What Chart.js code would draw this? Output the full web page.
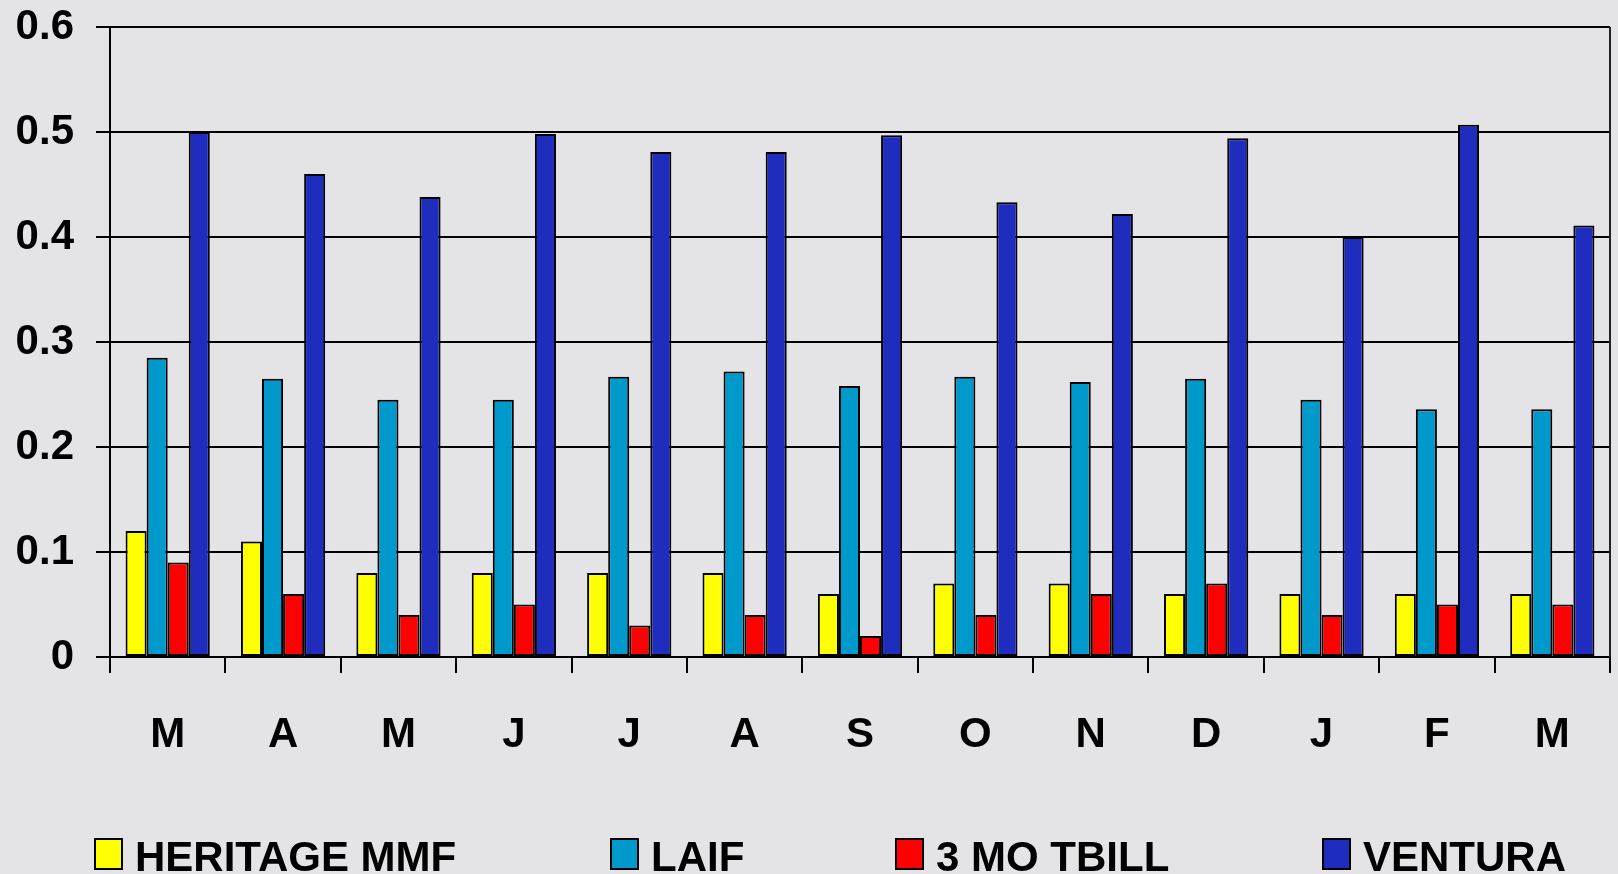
<!DOCTYPE html>
<html>
<head>
<meta charset="utf-8">
<script src="https://cdn.jsdelivr.net/npm/chart.js@4/dist/chart.umd.min.js"></script>
<style>
  html, body { margin: 0; padding: 0; overflow: hidden; }
  body { width: 1618px; height: 874px; background: #e4e4e6; }
  #wrap { position: relative; width: 1618px; height: 874px; }
</style>
</head>
<body>
<div id="wrap"><canvas id="rates" width="1618" height="874"></canvas></div>
<script>
// Monthly yields
const months   = ['M', 'A', 'M', 'J', 'J', 'A', 'S', 'O', 'N', 'D', 'J', 'F', 'M'];
const heritage = [0.12, 0.11, 0.08, 0.08, 0.08, 0.08, 0.06, 0.07, 0.07, 0.06, 0.06, 0.06, 0.06];
const laif     = [0.285, 0.265, 0.245, 0.245, 0.267, 0.272, 0.258, 0.267, 0.262, 0.265, 0.245, 0.236, 0.236];
const tbill    = [0.09, 0.06, 0.04, 0.05, 0.03, 0.04, 0.02, 0.04, 0.06, 0.07, 0.04, 0.05, 0.05];
const ventura  = [0.50, 0.46, 0.438, 0.498, 0.481, 0.481, 0.497, 0.433, 0.422, 0.494, 0.40, 0.507, 0.411];
const yTicks   = ['0', '0.1', '0.2', '0.3', '0.4', '0.5', '0.6'];

const FONT = '"Liberation Sans", Arial, sans-serif';
const FSIZE = 42;

function series(label, data, color) {
  return {
    label, data,
    backgroundColor: color,
    borderColor: '#000',
    borderWidth: 2,
    borderSkipped: false,
    barPercentage: 1.0,
    categoryPercentage: 0.73,
  };
}

// right frame edge of the plot
const frameEdge = {
  id: 'frameEdge',
  afterDatasetsDraw(chart) {
    const { ctx, chartArea: a } = chart;
    ctx.save();
    ctx.strokeStyle = '#222';
    ctx.lineWidth = 2;
    ctx.beginPath();
    ctx.moveTo(a.right, a.top);
    ctx.lineTo(a.right, a.bottom);
    ctx.stroke();
    ctx.restore();
  }
};

// legend along the bottom edge, partly cut off like the original
const legendBoxX = [95, 611, 896, 1323];
const bottomLegend = {
  id: 'bottomLegend',
  afterDraw(chart) {
    const ctx = chart.ctx;
    ctx.save();
    ctx.font = 'bold ' + FSIZE + 'px ' + FONT;
    ctx.textBaseline = 'alphabetic';
    chart.data.datasets.forEach((ds, i) => {
      const x = legendBoxX[i];
      ctx.fillStyle = ds.backgroundColor;
      ctx.fillRect(x, 839, 27, 30);
      ctx.strokeStyle = '#000';
      ctx.lineWidth = 2;
      ctx.strokeRect(x, 839, 27, 30);
      ctx.fillStyle = '#000';
      ctx.fillText(ds.label, x + 40, 871);
    });
    ctx.restore();
  }
};

new Chart(document.getElementById('rates'), {
  type: 'bar',
  data: {
    labels: months,
    datasets: [
      series('HERITAGE MMF', heritage, '#ffff00'),
      series('LAIF', laif, '#0099cc'),
      series('3 MO TBILL', tbill, '#ff0000'),
      series('VENTURA', ventura, '#1e2dbe'),
    ]
  },
  options: {
    responsive: false,
    animation: false,
    layout: { padding: { left: 0, right: 8, top: 27, bottom: 0 } },
    scales: {
      x: {
        afterFit: s => { s.height = 217; s.paddingLeft = 0; s.paddingRight = 0; },
        grid: {
          offset: true,
          drawOnChartArea: false,
          drawTicks: true,
          tickLength: 16,
          color: '#000',
          lineWidth: 2,
        },
        border: { color: '#000', width: 2 },
        ticks: {
          color: '#000',
          padding: 37,
          font: { family: FONT, size: FSIZE, weight: 'bold' },
          maxRotation: 0,
        }
      },
      y: {
        min: 0, max: 0.6,
        afterFit: s => { s.width = 110; s.paddingTop = 0; s.paddingBottom = 0; },
        grid: {
          color: '#000',
          lineWidth: 2,
          tickLength: 14,
        },
        border: { color: '#000', width: 2 },
        ticks: {
          stepSize: 0.1,
          color: '#000',
          padding: 22,
          font: { family: FONT, size: FSIZE, weight: 'bold' },
          callback: (v, i) => yTicks[i],
        }
      }
    },
    plugins: {
      legend: { display: false },
      tooltip: { enabled: false },
    }
  },
  plugins: [frameEdge, bottomLegend]
});
</script>
</body>
</html>
